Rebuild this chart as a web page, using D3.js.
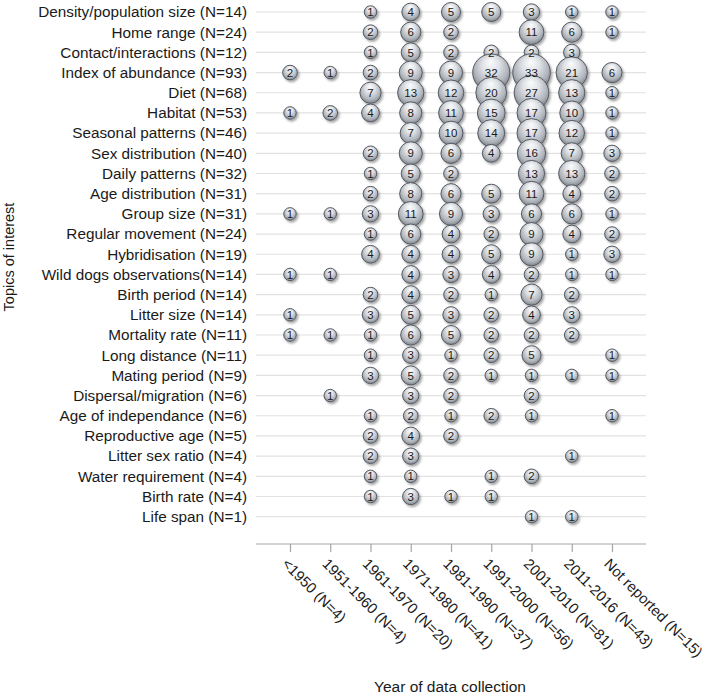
<!DOCTYPE html>
<html>
<head>
<meta charset="utf-8">
<script src="https://cdn.jsdelivr.net/npm/d3@7/dist/d3.min.js"></script>
<style>
  html, body { margin: 0; padding: 0; background: #ffffff; }
  svg { display: block; font-family: "Liberation Sans", Arial, sans-serif; }
</style>
</head>
<body>
<svg id="chart" width="708" height="695"></svg>
<script>
const topics = [
  "Density/population size (N=14)",
  "Home range (N=24)",
  "Contact/interactions (N=12)",
  "Index of abundance (N=93)",
  "Diet (N=68)",
  "Habitat (N=53)",
  "Seasonal patterns (N=46)",
  "Sex distribution (N=40)",
  "Daily patterns (N=32)",
  "Age distribution (N=31)",
  "Group size (N=31)",
  "Regular movement (N=24)",
  "Hybridisation (N=19)",
  "Wild dogs observations(N=14)",
  "Birth period (N=14)",
  "Litter size (N=14)",
  "Mortality rate (N=11)",
  "Long distance (N=11)",
  "Mating period (N=9)",
  "Dispersal/migration (N=6)",
  "Age of independance (N=6)",
  "Reproductive age (N=5)",
  "Litter sex ratio (N=4)",
  "Water requirement (N=4)",
  "Birth rate (N=4)",
  "Life span (N=1)"
];

const periods = [
  "<1950 (N=4)",
  "1951-1960 (N=4)",
  "1961-1970 (N=20)",
  "1971-1980 (N=41)",
  "1981-1990 (N=37)",
  "1991-2000 (N=56)",
  "2001-2010 (N=81)",
  "2011-2016 (N=43)",
  "Not reported (N=15)"
];

// counts per topic, one value per period (null = no study)
const counts = [
  [null, null, 1, 4, 5, 5, 3, 1, 1],
  [null, null, 2, 6, 2, null, 11, 6, 1],
  [null, null, 1, 5, 2, 2, 2, 3, null],
  [2, 1, 2, 9, 9, 32, 33, 21, 6],
  [null, null, 7, 13, 12, 20, 27, 13, 1],
  [1, 2, 4, 8, 11, 15, 17, 10, 1],
  [null, null, null, 7, 10, 14, 17, 12, 1],
  [null, null, 2, 9, 6, 4, 16, 7, 3],
  [null, null, 1, 5, 2, null, 13, 13, 2],
  [null, null, 2, 8, 6, 5, 11, 4, 2],
  [1, 1, 3, 11, 9, 3, 6, 6, 1],
  [null, null, 1, 6, 4, 2, 9, 4, 2],
  [null, null, 4, 4, 4, 5, 9, 1, 3],
  [1, 1, null, 4, 3, 4, 2, 1, 1],
  [null, null, 2, 4, 2, 1, 7, 2, null],
  [1, null, 3, 5, 3, 2, 4, 3, null],
  [1, 1, 1, 6, 5, 2, 2, 2, null],
  [null, null, 1, 3, 1, 2, 5, null, 1],
  [null, null, 3, 5, 2, 1, 1, 1, 1],
  [null, 1, null, 3, 2, null, 2, null, null],
  [null, null, 1, 2, 1, 2, 1, null, 1],
  [null, null, 2, 4, 2, null, null, null, null],
  [null, null, 2, 3, null, null, null, 1, null],
  [null, null, 1, 1, null, 1, 2, null, null],
  [null, null, 1, 3, 1, 1, null, null, null],
  [null, null, null, null, null, null, 1, 1, null]
];

const xTitle = "Year of data collection";
const yTitle = "Topics of interest";

const svg = d3.select("#chart");

const plotLeft = 256, plotRight = 646, axisY = 544;

const x = d3.scalePoint().domain(periods).range([290, 612]);
const y = d3.scalePoint().domain(topics).range([12, 516.7]);
const maxVal = d3.max(counts.flat());
const r = d3.scaleSqrt().domain([0, maxVal]).range([3.6, 18.8]);

// defs: gradient + shadow
const defs = svg.append("defs");
const grad = defs.append("radialGradient")
  .attr("id", "bubbleGrad")
  .attr("cx", "50%").attr("cy", "42%").attr("r", "58%")
  .attr("fx", "48%").attr("fy", "20%");
grad.append("stop").attr("offset", "0%").attr("stop-color", "#fbfcfd");
grad.append("stop").attr("offset", "40%").attr("stop-color", "#dfe2e6");
grad.append("stop").attr("offset", "78%").attr("stop-color", "#b0b5bc");
grad.append("stop").attr("offset", "100%").attr("stop-color", "#7f848c");

const filt = defs.append("filter").attr("id", "shadow")
  .attr("x", "-30%").attr("y", "-30%").attr("width", "170%").attr("height", "170%");
filt.append("feDropShadow").attr("dx", 1.6).attr("dy", 2)
  .attr("stdDeviation", 1.3).attr("flood-color", "#000").attr("flood-opacity", 0.35);

// gridlines
svg.append("g").selectAll("line")
  .data(topics).join("line")
  .attr("x1", plotLeft).attr("x2", plotRight)
  .attr("y1", d => y(d)).attr("y2", d => y(d))
  .attr("stroke", "#e2e2e2").attr("stroke-width", 1.2);

// x axis
const xAxis = d3.axisBottom(x).tickSize(8).tickFormat("");
const gx = svg.append("g").attr("transform", `translate(0,${axisY})`).call(xAxis);
gx.select(".domain").remove();
gx.selectAll(".tick line").attr("stroke", "#a6a6a6").attr("stroke-width", 1.2);
gx.append("line").attr("x1", plotLeft).attr("x2", plotRight)
  .attr("y1", 0).attr("y2", 0).attr("stroke", "#a6a6a6").attr("stroke-width", 1.2);

// x tick labels rotated
svg.append("g").selectAll("text")
  .data(periods).join("text")
  .attr("transform", d => `translate(${x(d)},${axisY}) rotate(45)`)
  .attr("x", 8.5).attr("y", 21)
  .attr("text-anchor", "start")
  .attr("font-size", 14.8)
  .attr("fill", "#1a1a1a")
  .text(d => d);

// y labels
svg.append("g").selectAll("text")
  .data(topics).join("text")
  .attr("x", 247).attr("y", d => y(d))
  .attr("dy", "0.35em")
  .attr("text-anchor", "end")
  .attr("font-size", 15.3)
  .attr("fill", "#1a1a1a")
  .text(d => d);

// bubbles
const points = [];
counts.forEach((row, i) => row.forEach((v, j) => {
  if (v != null) points.push({ topic: topics[i], period: periods[j], v });
}));

svg.append("g").selectAll("circle")
  .data(points).join("circle")
  .attr("cx", d => x(d.period)).attr("cy", d => y(d.topic))
  .attr("r", d => r(d.v))
  .attr("fill", "url(#bubbleGrad)")
  .attr("stroke", "#555a61").attr("stroke-width", 1)
  .attr("filter", "url(#shadow)");

svg.append("g").selectAll("text")
  .data(points).join("text")
  .attr("x", d => x(d.period)).attr("y", d => y(d.topic))
  .attr("dy", "0.36em")
  .attr("text-anchor", "middle")
  .attr("font-size", 11.5)
  .attr("fill", "#1a1a1a")
  .text(d => d.v);

// axis titles
svg.append("text")
  .attr("x", 450).attr("y", 692)
  .attr("text-anchor", "middle")
  .attr("font-size", 15.5)
  .attr("fill", "#1a1a1a")
  .text(xTitle);

svg.append("text")
  .attr("transform", "translate(14,257) rotate(-90)")
  .attr("text-anchor", "middle")
  .attr("font-size", 14.5)
  .attr("fill", "#1a1a1a")
  .text(yTitle);
</script>
</body>
</html>
